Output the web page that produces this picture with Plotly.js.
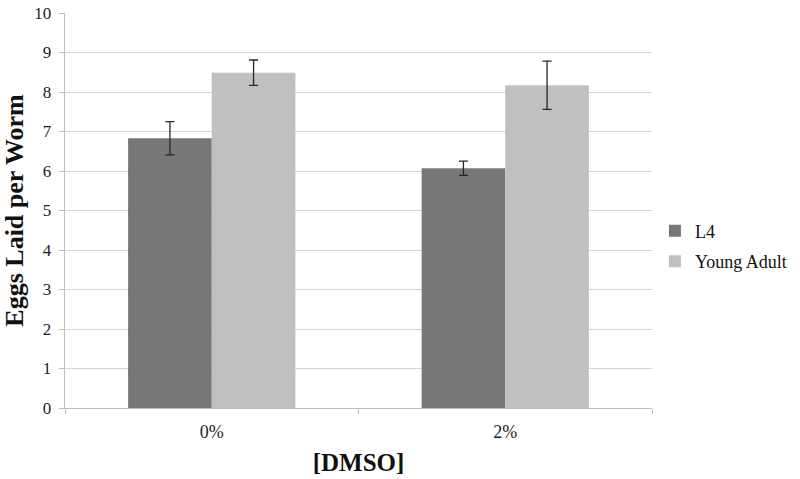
<!DOCTYPE html>
<html>
<head>
<meta charset="utf-8">
<script src="https://cdn.plot.ly/plotly-3.0.1.min.js"></script>
<style>html,body{margin:0;padding:0;background:#fff;}#chart{width:800px;height:479px;}</style>
</head>
<body>
<div id="chart"></div>
<script>
const categories = ["0%", "2%"];
const seriesNames = ["L4", "Young Adult"];
const l4Values = [6.83, 6.07];
const l4Errors = [0.42, 0.18];
const yaValues = [8.49, 8.17];
const yaErrors = [0.32, 0.61];
const yTickVals = [0,1,2,3,4,5,6,7,8,9,10];

const font = "Liberation Serif";
const errStyle = {type: "data", visible: true, color: "#262626", thickness: 1.3, width: 4.5};

const traces = [
  {type: "bar", name: seriesNames[0], x: categories, y: l4Values, legendgroup: "a",
   marker: {color: "#777777"},
   error_y: Object.assign({array: l4Errors}, errStyle)},
  {type: "bar", name: seriesNames[1], x: categories, y: yaValues, legendgroup: "b",
   marker: {color: "#c0c0c0"},
   error_y: Object.assign({array: yaErrors}, errStyle)}
];

const layout = {
  width: 800, height: 479,
  margin: {l: 65, r: 148, t: 13, b: 71, autoexpand: false},
  paper_bgcolor: "#ffffff", plot_bgcolor: "#ffffff",
  font: {family: font, color: "#222", size: 17},
  barmode: "group", bargap: 0.43, bargroupgap: 0,
  showlegend: true,
  legend: {x: 1.005, y: 0.41, xanchor: "left", yanchor: "middle",
           font: {family: font, size: 18, color: "#111"},
           itemwidth: 30, tracegroupgap: 4, bgcolor: "rgba(0,0,0,0)"},
  xaxis: {
    type: "category", showgrid: false, tickson: "boundaries",
    ticks: "outside", ticklen: 5, tickcolor: "#bfbfbf",
    showline: true, linecolor: "#bfbfbf", linewidth: 1,
    ticklabelstandoff: 7,
    tickfont: {family: font, size: 18, color: "#222"},
    title: {text: "<b>[DMSO]</b>", font: {family: font, size: 25, color: "#111"}, standoff: 12}
  },
  yaxis: {
    range: [0, 10], tickvals: yTickVals, ticktext: yTickVals.map(v => String(v) + "\u00a0"),
    showgrid: true, gridcolor: "#d4d4d4", gridwidth: 1,
    ticks: "outside", ticklen: 5, tickcolor: "#bfbfbf",
    showline: true, linecolor: "#bfbfbf", linewidth: 1,
    zeroline: false,
    tickfont: {family: font, size: 17, color: "#222"},
    title: {text: "<b>Eggs Laid per Worm</b>\u00a0\u00a0", font: {family: font, size: 26, color: "#111"}, standoff: 13}
  }
};

Plotly.newPlot("chart", traces, layout, {staticPlot: true, displayModeBar: false});
</script>
</body>
</html>
